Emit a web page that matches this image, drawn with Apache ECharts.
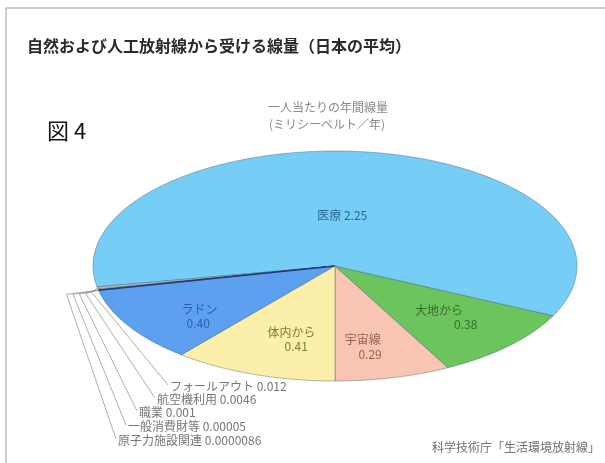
<!DOCTYPE html>
<html>
<head>
<meta charset="utf-8">
<script src="https://cdn.jsdelivr.net/npm/echarts@6/dist/echarts.min.js"></script>
<style>
  html, body { margin: 0; padding: 0; background: #ffffff; }
  #chart { width: 605px; height: 463px; }
</style>
</head>
<body>
<div id="chart"></div>
<script>
// Annual dose per person in Japan (mSv / year), listed counter-clockwise from 6 o'clock
const categories = ['宇宙線', '大地から', '医療', 'フォールアウト', '航空機利用', '職業', '一般消費財等', '原子力施設関連', 'ラドン', '体内から'];
const doses = [0.29, 0.38, 2.25, 0.012, 0.0046, 0.001, 0.00005, 0.0000086, 0.40, 0.41];
const sliceColors = ['#f8c5b5', '#6cc45c', '#76cdf6', '#b9b9b9', '#cfcfcf', '#e2e2e2', '#ececec', '#f4f4f4', '#5ea0f0', '#fbefa9'];
const labelColors = ['#9c5d4e', '#3b6c2d', '#2f6896', '#7a7a7a', '#7a7a7a', '#7a7a7a', '#7a7a7a', '#7a7a7a', '#2f5eae', '#85773f'];

const FONT = '"Noto Sans CJK JP", "Noto Sans", sans-serif';
const START_ANGLE = 270;              // first slice begins straight down
const total = doses.reduce((a, b) => a + b, 0);

// cumulative angular extents (degrees, counter-clockwise)
let acc = START_ANGLE;
const sliceData = doses.map((v, i) => {
  const s = acc;
  acc += v / total * 360;
  return { name: categories[i], value: [s, acc, v] };
});

// text placement inside the large slices, in units of the ellipse radii
const innerLabels = {
  '医療':   { oneLine: true, at: [0.03, 0.44] },
  'ラドン':  { name: [-0.56, -0.38], val: [-0.565, -0.50] },
  '体内から': { name: [-0.18, -0.58], val: [-0.16, -0.70] },
  '宇宙線':  { name: [0.115, -0.64], val: [0.145, -0.765] },
  '大地から': { name: [0.43, -0.39], val: [0.54, -0.51] }
};
// left ends of the callout labels for the very small slices (pixels)
const calloutAnchors = {
  'フォールアウト': [170, 386],
  '航空機利用': [157, 399],
  '職業': [139, 412],
  '一般消費財等': [128, 426],
  '原子力施設関連': [118, 440]
};
const calloutOrder = ['フォールアウト', '航空機利用', '職業', '一般消費財等', '原子力施設関連'];

function fmt(v) {
  return v >= 0.1 ? v.toFixed(2) : String(v);
}

const rad = d => d * Math.PI / 180;

// filled wedges of the flattened pie
function renderSlice(params, api) {
  const i = params.dataIndex;
  const s = api.value(0), e = api.value(1);
  const onRim = (deg, r) => api.coord([r * Math.cos(rad(deg)), r * Math.sin(rad(deg))]);
  const c = api.coord([0, 0]);

  const pts = [c];
  const steps = Math.max(2, Math.ceil((e - s) / 0.5));
  for (let k = 0; k <= steps; k++) pts.push(onRim(s + (e - s) * k / steps, 1));

  const children = [{
    type: 'polygon',
    shape: { points: pts },
    style: { fill: sliceColors[i], stroke: 'rgba(70,95,115,0.55)', lineWidth: 0.8 }
  }];

  if (categories[i] === 'ラドン') {
    const p = onRim(s, 1);
    children.push({
      type: 'line',
      shape: { x1: c[0], y1: c[1], x2: p[0], y2: p[1] },
      style: { stroke: '#1f3d7a', lineWidth: 1.6 }
    });
  }
  return { type: 'group', children: children };
}

// names, values and callouts drawn above all wedges
function renderLabel(params, api) {
  const i = params.dataIndex;
  const s = api.value(0), e = api.value(1), v = api.value(2);
  const name = categories[i];
  const onRim = (deg, r) => api.coord([r * Math.cos(rad(deg)), r * Math.sin(rad(deg))]);
  const children = [];

  const txt = (t, p, align, color) => ({
    type: 'text',
    x: p[0], y: p[1],
    style: {
      text: t, fill: color, font: '12px ' + FONT,
      textAlign: align, textVerticalAlign: 'middle'
    }
  });

  const lab = innerLabels[name];
  if (lab) {
    if (lab.oneLine) {
      children.push(txt(name + ' ' + fmt(v), api.coord(lab.at), 'center', labelColors[i]));
    } else {
      children.push(txt(name, api.coord(lab.name), 'center', labelColors[i]));
      children.push(txt(fmt(v), api.coord(lab.val), 'center', labelColors[i]));
    }
  }

  const ci = calloutOrder.indexOf(name);
  if (ci >= 0) {
    const tip = onRim((s + e) / 2, 1);
    const elbow = [tip[0] - 6 - 6.5 * ci, tip[1] + 4];
    const end = calloutAnchors[name];
    children.push({
      type: 'polyline',
      shape: { points: [tip, elbow, [end[0] - 2, end[1] - 1]] },
      style: { stroke: '#9a9a9a', lineWidth: 0.8, fill: null }
    });
    children.push(txt(name + ' ' + fmt(v), end, 'left', '#777777'));
  }
  return { type: 'group', children: children };
}

const chart = echarts.init(document.getElementById('chart'), null, { renderer: 'canvas' });
chart.setOption({
  animation: false,
  backgroundColor: '#ffffff',
  grid: { left: 93, top: 151, width: 484, height: 230 },
  xAxis: { type: 'value', min: -1, max: 1, show: false },
  yAxis: { type: 'value', min: -1, max: 1, show: false },
  series: [
    { type: 'custom', coordinateSystem: 'cartesian2d', clip: false, z: 2, renderItem: renderSlice, data: sliceData },
    { type: 'custom', coordinateSystem: 'cartesian2d', clip: false, z: 3, renderItem: renderLabel, data: sliceData }
  ],
  graphic: [
    { type: 'line', shape: { x1: 6, y1: 8, x2: 605, y2: 8 }, style: { stroke: '#bdbdbd', lineWidth: 1.5 } },
    { type: 'line', shape: { x1: 6, y1: 8, x2: 6, y2: 463 }, style: { stroke: '#bdbdbd', lineWidth: 1.5 } },
    {
      type: 'text', left: 27, top: 38,
      style: { text: '自然および人工放射線から受ける線量（日本の平均）', fill: '#2a2a2a', font: 'bold 16px ' + FONT }
    },
    {
      type: 'text', left: 47, top: 120,
      style: { text: '図 4', fill: '#111111', font: '22px ' + FONT }
    },
    {
      type: 'text', x: 328, y: 107,
      style: { text: '一人当たりの年間線量', fill: '#8a8a8a', font: '12px ' + FONT, textAlign: 'center', textVerticalAlign: 'middle' }
    },
    {
      type: 'text', x: 327, y: 124,
      style: { text: '(ミリシーベルト／年)', fill: '#8a8a8a', font: '12px ' + FONT, textAlign: 'center', textVerticalAlign: 'middle' }
    },
    {
      type: 'text', x: 600, y: 447,
      style: { text: '科学技術庁「生活環境放射線」', fill: '#707070', font: '12px ' + FONT, textAlign: 'right', textVerticalAlign: 'middle' }
    }
  ]
});
</script>
</body>
</html>
